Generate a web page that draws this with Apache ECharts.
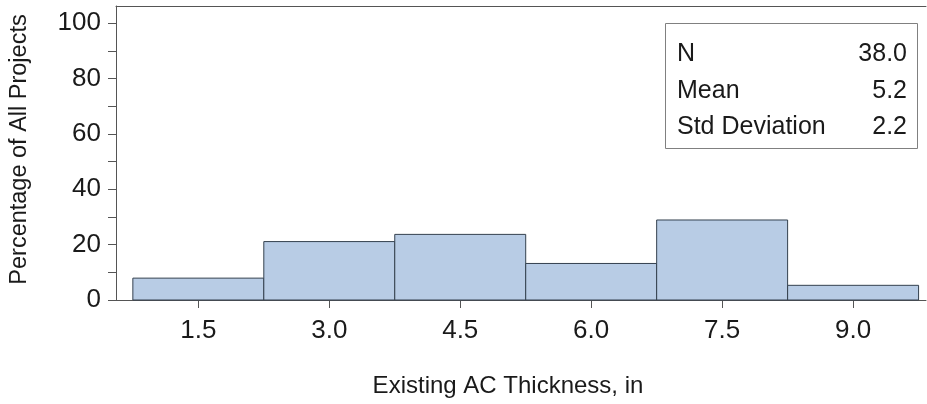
<!DOCTYPE html>
<html>
<head>
<meta charset="utf-8">
<script src="https://cdn.jsdelivr.net/npm/echarts@6/dist/echarts.min.js"></script>
<style>html,body{margin:0;padding:0;background:#fff;}#c{width:927px;height:404px;}</style>
</head>
<body>
<div id="c"></div>
<script>
const binStarts = [0.75, 2.25, 3.75, 5.25, 6.75, 8.25];
const binWidth = 1.5;
const percentages = [7.9, 21.1, 23.7, 13.2, 28.9, 5.3];
const xTickValues = [1.5, 3.0, 4.5, 6.0, 7.5, 9.0];
const yTickValues = [0, 10, 20, 30, 40, 50, 60, 70, 80, 90, 100];
const yLabelValues = [0, 20, 40, 60, 80, 100];
const statsLabels = ['N', 'Mean', 'Std Deviation'];
const statsValues = ['38.0', '5.2', '2.2'];
const xTitle = 'Existing AC Thickness, in';
const yTitle = 'Percentage of All Projects';

const FONT = '"Liberation Sans", Arial, sans-serif';
const TXT = '#1a1a1a';
const chart = echarts.init(document.getElementById('c'), null, {renderer: 'canvas'});

const barData = binStarts.map((s, i) => [s, s + binWidth, percentages[i]]);

const statsGraphic = [{
  type: 'rect', shape: {x: 665.5, y: 23.5, width: 252, height: 125},
  style: {fill: '#fff', stroke: '#808080', lineWidth: 1}
}];
statsLabels.forEach((l, i) => {
  statsGraphic.push({type: 'text', x: 677, y: 54.5 + i * 36.3,
    style: {text: l, font: '25px ' + FONT, fill: TXT, align: 'left', verticalAlign: 'middle'}});
  statsGraphic.push({type: 'text', x: 907, y: 54.5 + i * 36.3,
    style: {text: statsValues[i], font: '25px ' + FONT, fill: TXT, align: 'right', verticalAlign: 'middle'}});
});

chart.setOption({
  animation: false,
  grid: {left: 116, right: 1, top: 6, bottom: 104, containLabel: false},
  xAxis: [{
    type: 'value', min: 0.557, max: 9.835, position: 'bottom',
    splitLine: {show: false},
    axisLine: {show: true, onZero: false, lineStyle: {color: '#555', width: 1}},
    axisTick: {show: true, length: 8, customValues: xTickValues, lineStyle: {color: '#555'}},
    axisLabel: {customValues: xTickValues, formatter: v => v.toFixed(1), fontSize: 26, color: TXT, fontFamily: FONT, margin: 18},
    name: xTitle, nameLocation: 'middle', nameGap: 74,
    nameTextStyle: {fontSize: 24, color: TXT, fontFamily: FONT, padding: [0, 26, 0, 0]}
  }, {
    type: 'value', min: 0.557, max: 9.835, position: 'top',
    splitLine: {show: false},
    axisLine: {show: true, onZero: false, lineStyle: {color: '#555', width: 1}},
    axisTick: {show: false}, axisLabel: {show: false}
  }],
  yAxis: {
    type: 'value', min: 0, max: 106.2,
    splitLine: {show: false},
    axisLine: {show: true, lineStyle: {color: '#555', width: 1}},
    axisTick: {show: true, length: 8, customValues: yTickValues, lineStyle: {color: '#555'}},
    axisLabel: {customValues: yLabelValues, fontSize: 26, color: TXT, fontFamily: FONT, margin: 15},
    name: yTitle, nameLocation: 'middle', nameRotate: 90, nameGap: 84,
    nameTextStyle: {fontSize: 23.5, color: TXT, fontFamily: FONT, padding: [0, 0, 0, 7]}
  },
  series: [{
    type: 'custom',
    xAxisIndex: 0,
    data: barData,
    renderItem: function (params, api) {
      const p0 = api.coord([api.value(0), 0]);
      const p1 = api.coord([api.value(1), api.value(2)]);
      return {
        type: 'rect',
        shape: {x: p0[0], y: p1[1], width: p1[0] - p0[0], height: p0[1] - p1[1]},
        style: {fill: '#b8cce5', stroke: '#34404e', lineWidth: 1}
      };
    }
  }],
  graphic: statsGraphic
});
</script>
</body>
</html>
